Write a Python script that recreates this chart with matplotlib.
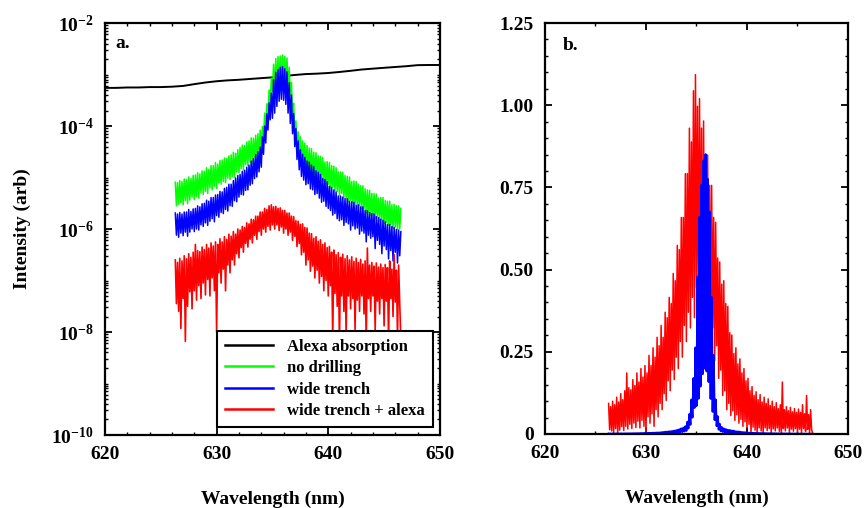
import matplotlib.pyplot as plt
import numpy as np
from matplotlib.ticker import FixedLocator, LogLocator, MultipleLocator, FuncFormatter, NullFormatter

plt.rcParams['font.family'] = ['Liberation Serif', 'DejaVu Serif']
plt.rcParams['font.weight'] = 'bold'
plt.rcParams['axes.labelweight'] = 'bold'
plt.rcParams['mathtext.fontset'] = 'custom'
plt.rcParams['mathtext.rm'] = 'Liberation Serif:bold'
plt.rcParams['mathtext.it'] = 'Liberation Serif:bold'
plt.rcParams['mathtext.bf'] = 'Liberation Serif:bold'

# spectra sampled every 0.1 nm from 626.3 to 646.5 nm, stored as log10(intensity)
wavelength = np.round(626.3 + 0.1 * np.arange(203), 1)

green_log = [
    -5.09, -5.55, -5.10, -5.52, -5.06, -5.49, -5.08, -5.53, -5.03, -5.45,
    -5.04, -5.51, -4.99, -5.44, -5.02, -5.38, -4.96, -5.43, -4.95, -5.37,
    -4.91, -5.40, -4.93, -5.30, -4.87, -5.33, -4.88, -5.27, -4.81, -5.31,
    -4.84, -5.20, -4.77, -5.24, -4.77, -5.17, -4.71, -5.21, -4.74, -5.11,
    -4.67, -5.13, -4.66, -5.08, -4.62, -5.10, -4.63, -5.01, -4.58, -5.04,
    -4.56, -4.98, -4.51, -5.00, -4.53, -4.89, -4.46, -4.91, -4.42, -4.83,
    -4.37, -4.85, -4.38, -4.75, -4.31, -4.77, -4.29, -4.70, -4.23, -4.72,
    -4.24, -4.61, -4.18, -4.63, -4.15, -4.55, -4.08, -4.50, -4.01, -4.28,
    -3.75, -4.05, -3.57, -3.78, -3.30, -3.55, -3.07, -3.33, -2.80, -3.30,
    -2.69, -3.26, -2.65, -3.25, -2.64, -3.22, -2.62, -3.25, -2.65, -3.20,
    -2.68, -3.28, -2.86, -3.40, -3.15, -3.75, -3.56, -4.15, -3.90, -4.45,
    -4.11, -4.62, -4.21, -4.70, -4.29, -4.75, -4.33, -4.82, -4.38, -4.86,
    -4.43, -4.88, -4.44, -4.93, -4.51, -4.95, -4.52, -5.03, -4.58, -5.01,
    -4.59, -5.07, -4.61, -5.06, -4.70, -5.14, -4.69, -5.13, -4.71, -5.20,
    -4.77, -5.18, -4.78, -5.26, -4.81, -5.27, -4.89, -5.35, -4.89, -5.31,
    -4.90, -5.39, -4.96, -5.40, -4.98, -5.47, -4.99, -5.44, -5.08, -5.50,
    -5.07, -5.52, -5.08, -5.59, -5.13, -5.55, -5.16, -5.62, -5.16, -5.61,
    -5.22, -5.70, -5.24, -5.68, -5.25, -5.74, -5.31, -5.73, -5.31, -5.80,
    -5.32, -5.77, -5.40, -5.84, -5.39, -5.82, -5.39, -5.90, -5.45, -5.87,
    -5.46, -5.93, -5.46, -5.92, -5.53, -5.99, -5.52, -5.96, -5.55, -6.01,
    -5.55, -6.00, -5.60]

blue_log = [
    -5.69, -6.12, -5.71, -6.16, -5.68, -6.08, -5.71, -6.13, -5.67, -6.06,
    -5.67, -6.14, -5.62, -6.06, -5.66, -6.00, -5.61, -6.05, -5.60, -6.00,
    -5.55, -6.02, -5.57, -5.92, -5.51, -5.95, -5.50, -5.88, -5.44, -5.93,
    -5.46, -5.85, -5.39, -5.80, -5.39, -5.86, -5.34, -5.74, -5.33, -5.77,
    -5.27, -5.68, -5.28, -5.70, -5.21, -5.62, -5.19, -5.65, -5.13, -5.55,
    -5.13, -5.56, -5.06, -5.45, -5.01, -5.47, -4.96, -5.38, -4.94, -5.33,
    -4.88, -5.34, -4.86, -5.25, -4.80, -5.24, -4.76, -5.15, -4.68, -5.12,
    -4.63, -5.02, -4.55, -4.99, -4.50, -4.89, -4.41, -4.80, -4.21, -4.55,
    -4.00, -4.33, -3.76, -4.08, -3.55, -3.88, -3.36, -3.85, -3.10, -3.75,
    -2.96, -3.62, -2.90, -3.52, -2.86, -3.48, -2.85, -3.50, -2.89, -3.58,
    -2.95, -3.75, -3.16, -3.95, -3.40, -4.15, -3.76, -4.40, -4.05, -4.65,
    -4.29, -4.85, -4.46, -4.98, -4.55, -5.05, -4.61, -5.14, -4.68, -5.12,
    -4.70, -5.22, -4.76, -5.24, -4.79, -5.33, -4.87, -5.31, -4.90, -5.40,
    -4.94, -5.48, -5.02, -5.46, -5.04, -5.56, -5.08, -5.60, -5.17, -5.64,
    -5.19, -5.73, -5.24, -5.70, -5.28, -5.80, -5.36, -5.84, -5.36, -5.82,
    -5.38, -5.93, -5.41, -5.87, -5.41, -5.90, -5.46, -6.02, -5.47, -5.94,
    -5.48, -6.00, -5.54, -5.98, -5.53, -6.10, -5.57, -6.04, -5.57, -6.08,
    -5.64, -6.25, -5.64, -6.12, -5.68, -6.18, -5.70, -6.15, -5.71, -6.38,
    -5.76, -6.22, -5.78, -6.30, -5.81, -6.48, -5.83, -6.33, -5.86, -6.40,
    -5.91, -6.58, -5.91, -6.42, -5.95, -6.62, -5.97, -6.45, -6.01, -6.66,
    -6.02, -6.52, -6.05]

red_log = [
    -6.60, -7.45, -6.65, -7.60, -6.57, -7.93, -6.62, -7.35, -6.52, -8.18,
    -6.58, -7.50, -6.48, -7.22, -6.55, -7.55, -6.45, -7.20, -6.30, -7.38,
    -6.42, -7.10, -6.44, -7.35, -6.35, -7.05, -6.40, -7.28, -6.30, -6.98,
    -6.37, -7.30, -6.27, -6.95, -6.33, -7.20, -6.25, -8.00, -6.30, -6.85,
    -6.19, -7.05, -6.25, -6.78, -6.15, -7.20, -6.20, -6.70, -6.10, -6.85,
    -6.14, -6.60, -6.05, -6.70, -6.10, -6.48, -6.00, -6.56, -6.02, -6.36,
    -5.95, -6.45, -5.97, -6.28, -5.88, -6.35, -5.90, -6.20, -5.81, -6.27,
    -5.82, -6.12, -5.75, -6.20, -5.75, -6.05, -5.67, -6.12, -5.67, -6.00,
    -5.60, -6.06, -5.62, -5.95, -5.55, -6.02, -5.53, -5.92, -5.57, -6.00,
    -5.56, -5.92, -5.60, -6.03, -5.59, -5.96, -5.64, -6.08, -5.64, -6.00,
    -5.69, -6.12, -5.69, -6.06, -5.75, -6.22, -5.76, -6.14, -5.84, -6.34,
    -5.85, -6.28, -5.91, -6.50, -5.90, -6.45, -5.97, -6.70, -5.98, -6.60,
    -6.08, -6.82, -6.09, -6.72, -6.18, -6.95, -6.15, -6.80, -6.24, -7.05,
    -6.21, -6.92, -6.30, -7.20, -6.27, -7.00, -6.36, -7.30, -6.34, -7.10,
    -6.45, -8.15, -6.41, -7.25, -6.50, -7.50, -6.46, -8.25, -6.55, -7.30,
    -6.49, -7.60, -6.58, -8.05, -6.52, -7.30, -6.60, -7.55, -6.54, -7.35,
    -6.63, -7.95, -6.57, -7.38, -6.65, -7.60, -6.59, -7.30, -6.68, -7.65,
    -6.62, -8.20, -6.37, -7.35, -6.70, -7.60, -6.65, -7.30, -6.72, -7.98,
    -6.66, -7.40, -6.74, -7.65, -6.68, -7.35, -6.75, -7.88, -6.69, -7.40,
    -6.75, -8.18, -6.62, -7.35, -6.78, -7.70, -6.50, -7.42, -6.80, -8.10,
    -6.70, -7.45, -8.12]

# Alexa absorption, 1 nm steps
abs_wavelength = list(range(620, 651))
abs_intensity = [
    5.5e-4, 5.5e-4, 5.6e-4, 5.6e-4, 5.7e-4, 5.7e-4, 5.8e-4, 6.0e-4, 6.5e-4, 7.0e-4,
    7.4e-4, 7.7e-4, 7.9e-4, 8.2e-4, 8.5e-4, 8.8e-4, 9.3e-4, 9.8e-4, 1.02e-3, 1.04e-3,
    1.07e-3, 1.12e-3, 1.18e-3, 1.25e-3, 1.30e-3, 1.35e-3, 1.40e-3, 1.45e-3, 1.52e-3, 1.53e-3,
    1.53e-3]

# normalisation used for panel b
red_ref = 2.7e-6
blue_ref = 1.66e-3

green = 10.0 ** np.array(green_log)
blue = 10.0 ** np.array(blue_log)
red = 10.0 ** np.array(red_log)

fig = plt.figure(figsize=(8.66, 5.08), dpi=100)
ax1 = fig.add_axes([0.1212, 0.1437, 0.3868, 0.811])
ax2 = fig.add_axes([0.6293, 0.1457, 0.3499, 0.809])

FS = 14

ax1.plot(abs_wavelength, abs_intensity, color='black', lw=1.4, label='Alexa absorption')
ax1.plot(wavelength, green, color='#00ff00', lw=1.1, label='no drilling')
ax1.plot(wavelength, blue, color='#0000ff', lw=1.1, label='wide trench')
ax1.plot(wavelength, red, color='#ff0000', lw=1.2, label='wide trench + alexa')
ax1.set_yscale('log')
ax1.set_xlim(620, 650)
ax1.set_ylim(1e-10, 1e-2)
ax1.yaxis.set_major_locator(FixedLocator([1e-10, 1e-8, 1e-6, 1e-4, 1e-2]))
ax1.yaxis.set_major_formatter(FuncFormatter(lambda v, p: r'$10^{%d}$' % round(np.log10(v))))
ax1.yaxis.set_minor_locator(LogLocator(base=10, subs=np.arange(1, 10), numticks=30))
ax1.yaxis.set_minor_formatter(NullFormatter())
ax1.xaxis.set_major_locator(MultipleLocator(10))
ax1.xaxis.set_minor_locator(MultipleLocator(2))
ax1.set_xlabel('Wavelength (nm)', fontsize=FS, labelpad=20)
ax1.set_ylabel('Intensity (arb)', fontsize=FS, labelpad=15)
ax1.text(0.03, 0.97, 'a.', transform=ax1.transAxes, fontsize=FS, va='top')
leg = ax1.legend(loc='lower right', bbox_to_anchor=(0.979, 0.019), fontsize=12,
                 frameon=True, fancybox=False, edgecolor='black', framealpha=1,
                 handlelength=2.9, borderpad=0.5, labelspacing=0.32, borderaxespad=0)
leg.get_frame().set_linewidth(1.5)
for line in leg.get_lines():
    line.set_linewidth(1.8)

ax2.plot(wavelength, red / red_ref, color='#ff0000', lw=1.1)
ax2.plot(wavelength, blue / blue_ref, color='#0000ff', lw=1.5)
ax2.set_xlim(620, 650)
ax2.set_ylim(0, 1.25)
ax2.xaxis.set_major_locator(MultipleLocator(10))
ax2.xaxis.set_minor_locator(MultipleLocator(5))
ax2.yaxis.set_major_locator(MultipleLocator(0.25))
ax2.yaxis.set_minor_locator(MultipleLocator(0.05))
ax2.yaxis.set_major_formatter(FuncFormatter(lambda v, p: '0' if abs(v) < 1e-9 else '%.2f' % v))
ax2.set_xlabel('Wavelength (nm)', fontsize=FS, labelpad=20)
ax2.text(0.06, 0.965, 'b.', transform=ax2.transAxes, fontsize=FS, va='top')

for ax in (ax1, ax2):
    for s in ax.spines.values():
        s.set_linewidth(1.6)
    ax.tick_params(which='both', direction='in', top=True, right=True, labelsize=FS)
    ax.tick_params(which='major', length=5, width=1.3, pad=8)
    ax.tick_params(which='minor', length=2.5, width=1.0)

fig.savefig('out.png', dpi=100)
